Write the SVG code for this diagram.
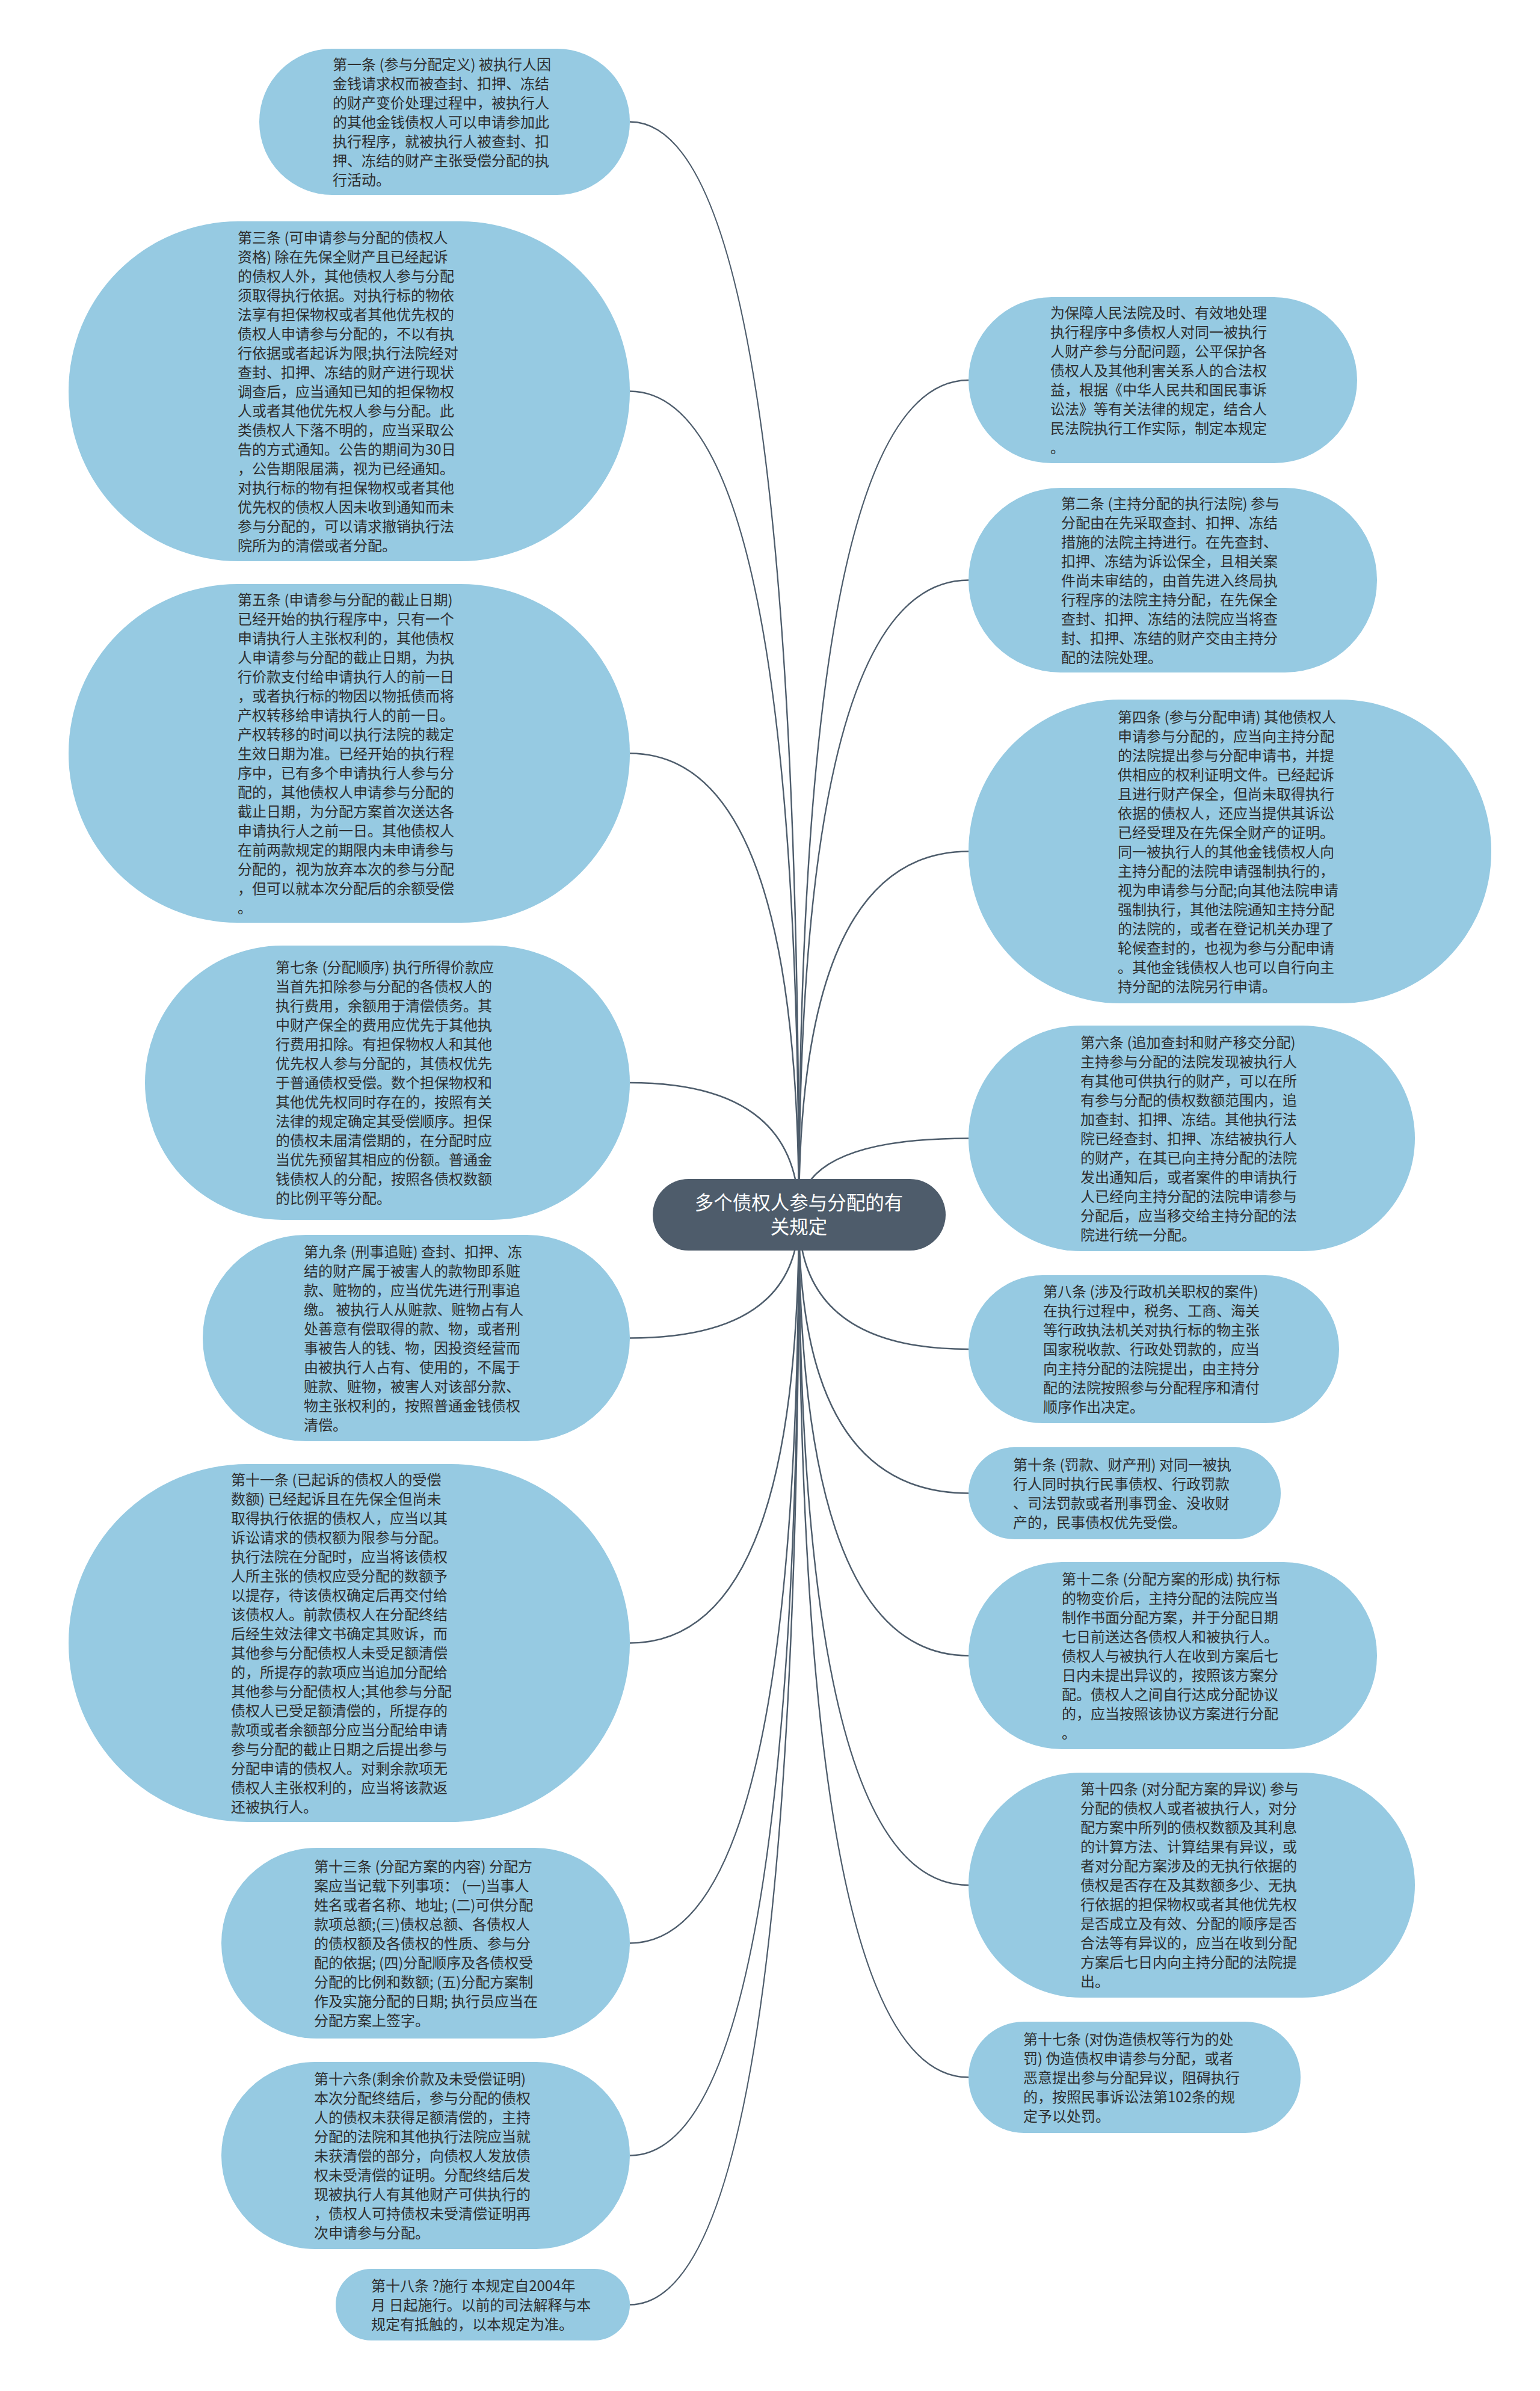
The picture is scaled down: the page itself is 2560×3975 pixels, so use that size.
<svg xmlns="http://www.w3.org/2000/svg" width="2560" height="3975" viewBox="0 0 2560 3975">
<style>
.bg{fill:#ffffff}
.n rect{fill:#96cae2}
.t{font-family:"Noto Sans CJK SC","Noto Sans",sans-serif;font-size:24px;fill:#2e2e2e}
.c path{fill:none;stroke:#4e5d6c;stroke-width:2.5}
.root rect{fill:#4e5c6b}
.rt{font-family:"Noto Sans CJK SC","Noto Sans",sans-serif;font-size:31.5px;fill:#ffffff;text-anchor:middle}
</style>
<rect class="bg" x="0" y="0" width="2560" height="3975"/>
<g id="connectors" class="c">
<path d="M1328 2020 Q1328 202.5 1047 202.5"/>
<path d="M1328 2020 Q1328 650.5 1047 650.5"/>
<path d="M1328 2020 Q1328 1252.5 1047 1252.5"/>
<path d="M1328 2020 Q1328 1800 1047 1800"/>
<path d="M1328 2020 Q1328 2224.5 1047 2224.5"/>
<path d="M1328 2020 Q1328 2731.5 1047 2731.5"/>
<path d="M1328 2020 Q1328 3230.5 1047 3230.5"/>
<path d="M1328 2020 Q1328 3583.5 1047 3583.5"/>
<path d="M1328 2020 Q1328 3831.5 1047 3831.5"/>
<path d="M1328 2020 Q1328 632 1610 632"/>
<path d="M1328 2020 Q1328 964.5 1610 964.5"/>
<path d="M1328 2020 Q1328 1415.5 1610 1415.5"/>
<path d="M1328 2020 Q1328 1892.5 1610 1892.5"/>
<path d="M1328 2020 Q1328 2243 1610 2243"/>
<path d="M1328 2020 Q1328 2482.5 1610 2482.5"/>
<path d="M1328 2020 Q1328 2752.5 1610 2752.5"/>
<path d="M1328 2020 Q1328 3134 1610 3134"/>
<path d="M1328 2020 Q1328 3453.5 1610 3453.5"/>
</g>

<g id="root" class="root">
<rect x="1085" y="1960" width="487" height="119" rx="59.5"/>
<text class="rt"><tspan x="1328" y="2011">多个债权人参与分配的有</tspan><tspan x="1328" y="2051">关规定</tspan></text>
</g>

<g id="node-1" class="n">
<rect x="431" y="81" width="616" height="243" rx="121"/>
<text class="t"><tspan x="553" y="115.5">第一条 (参与分配定义) 被执行人因</tspan><tspan x="553" y="147.5">金钱请求权而被查封、扣押、冻结</tspan><tspan x="553" y="179.5">的财产变价处理过程中，被执行人</tspan><tspan x="553" y="211.5">的其他金钱债权人可以申请参加此</tspan><tspan x="553" y="243.5">执行程序，就被执行人被查封、扣</tspan><tspan x="553" y="275.5">押、冻结的财产主张受偿分配的执</tspan><tspan x="553" y="307.5">行活动。</tspan></text>
</g>

<g id="node-3" class="n">
<rect x="114" y="368" width="933" height="565" rx="282"/>
<text class="t"><tspan x="395" y="403.5">第三条 (可申请参与分配的债权人</tspan><tspan x="395" y="435.5">资格) 除在先保全财产且已经起诉</tspan><tspan x="395" y="467.5">的债权人外，其他债权人参与分配</tspan><tspan x="395" y="499.5">须取得执行依据。对执行标的物依</tspan><tspan x="395" y="531.5">法享有担保物权或者其他优先权的</tspan><tspan x="395" y="563.5">债权人申请参与分配的，不以有执</tspan><tspan x="395" y="595.5">行依据或者起诉为限;执行法院经对</tspan><tspan x="395" y="627.5">查封、扣押、冻结的财产进行现状</tspan><tspan x="395" y="659.5">调查后，应当通知已知的担保物权</tspan><tspan x="395" y="691.5">人或者其他优先权人参与分配。此</tspan><tspan x="395" y="723.5">类债权人下落不明的，应当采取公</tspan><tspan x="395" y="755.5">告的方式通知。公告的期间为30日</tspan><tspan x="395" y="787.5">，公告期限届满，视为已经通知。</tspan><tspan x="395" y="819.5">对执行标的物有担保物权或者其他</tspan><tspan x="395" y="851.5">优先权的债权人因未收到通知而未</tspan><tspan x="395" y="883.5">参与分配的，可以请求撤销执行法</tspan><tspan x="395" y="915.5">院所为的清偿或者分配。</tspan></text>
</g>

<g id="node-5" class="n">
<rect x="114" y="971" width="933" height="563" rx="281"/>
<text class="t"><tspan x="395" y="1005.5">第五条 (申请参与分配的截止日期)</tspan><tspan x="395" y="1037.5">已经开始的执行程序中，只有一个</tspan><tspan x="395" y="1069.5">申请执行人主张权利的，其他债权</tspan><tspan x="395" y="1101.5">人申请参与分配的截止日期，为执</tspan><tspan x="395" y="1133.5">行价款支付给申请执行人的前一日</tspan><tspan x="395" y="1165.5">，或者执行标的物因以物抵债而将</tspan><tspan x="395" y="1197.5">产权转移给申请执行人的前一日。</tspan><tspan x="395" y="1229.5">产权转移的时间以执行法院的裁定</tspan><tspan x="395" y="1261.5">生效日期为准。已经开始的执行程</tspan><tspan x="395" y="1293.5">序中，已有多个申请执行人参与分</tspan><tspan x="395" y="1325.5">配的，其他债权人申请参与分配的</tspan><tspan x="395" y="1357.5">截止日期，为分配方案首次送达各</tspan><tspan x="395" y="1389.5">申请执行人之前一日。其他债权人</tspan><tspan x="395" y="1421.5">在前两款规定的期限内未申请参与</tspan><tspan x="395" y="1453.5">分配的，视为放弃本次的参与分配</tspan><tspan x="395" y="1485.5">，但可以就本次分配后的余额受偿</tspan><tspan x="395" y="1517.5">。</tspan></text>
</g>

<g id="node-7" class="n">
<rect x="241" y="1572" width="806" height="456" rx="228"/>
<text class="t"><tspan x="458" y="1617">第七条 (分配顺序) 执行所得价款应</tspan><tspan x="458" y="1649">当首先扣除参与分配的各债权人的</tspan><tspan x="458" y="1681">执行费用，余额用于清偿债务。其</tspan><tspan x="458" y="1713">中财产保全的费用应优先于其他执</tspan><tspan x="458" y="1745">行费用扣除。有担保物权人和其他</tspan><tspan x="458" y="1777">优先权人参与分配的，其债权优先</tspan><tspan x="458" y="1809">于普通债权受偿。数个担保物权和</tspan><tspan x="458" y="1841">其他优先权同时存在的，按照有关</tspan><tspan x="458" y="1873">法律的规定确定其受偿顺序。担保</tspan><tspan x="458" y="1905">的债权未届清偿期的，在分配时应</tspan><tspan x="458" y="1937">当优先预留其相应的份额。普通金</tspan><tspan x="458" y="1969">钱债权人的分配，按照各债权数额</tspan><tspan x="458" y="2001">的比例平等分配。</tspan></text>
</g>

<g id="node-9" class="n">
<rect x="337" y="2053" width="710" height="343" rx="171"/>
<text class="t"><tspan x="505" y="2089.5">第九条 (刑事追赃) 查封、扣押、冻</tspan><tspan x="505" y="2121.5">结的财产属于被害人的款物即系赃</tspan><tspan x="505" y="2153.5">款、赃物的，应当优先进行刑事追</tspan><tspan x="505" y="2185.5">缴。 被执行人从赃款、赃物占有人</tspan><tspan x="505" y="2217.5">处善意有偿取得的款、物，或者刑</tspan><tspan x="505" y="2249.5">事被告人的钱、物，因投资经营而</tspan><tspan x="505" y="2281.5">由被执行人占有、使用的，不属于</tspan><tspan x="505" y="2313.5">赃款、赃物，被害人对该部分款、</tspan><tspan x="505" y="2345.5">物主张权利的，按照普通金钱债权</tspan><tspan x="505" y="2377.5">清偿。</tspan></text>
</g>

<g id="node-11" class="n">
<rect x="114" y="2434" width="933" height="595" rx="297"/>
<text class="t"><tspan x="384" y="2468.5">第十一条 (已起诉的债权人的受偿</tspan><tspan x="384" y="2500.5">数额) 已经起诉且在先保全但尚未</tspan><tspan x="384" y="2532.5">取得执行依据的债权人，应当以其</tspan><tspan x="384" y="2564.5">诉讼请求的债权额为限参与分配。</tspan><tspan x="384" y="2596.5">执行法院在分配时，应当将该债权</tspan><tspan x="384" y="2628.5">人所主张的债权应受分配的数额予</tspan><tspan x="384" y="2660.5">以提存，待该债权确定后再交付给</tspan><tspan x="384" y="2692.5">该债权人。前款债权人在分配终结</tspan><tspan x="384" y="2724.5">后经生效法律文书确定其败诉，而</tspan><tspan x="384" y="2756.5">其他参与分配债权人未受足额清偿</tspan><tspan x="384" y="2788.5">的，所提存的款项应当追加分配给</tspan><tspan x="384" y="2820.5">其他参与分配债权人;其他参与分配</tspan><tspan x="384" y="2852.5">债权人已受足额清偿的，所提存的</tspan><tspan x="384" y="2884.5">款项或者余额部分应当分配给申请</tspan><tspan x="384" y="2916.5">参与分配的截止日期之后提出参与</tspan><tspan x="384" y="2948.5">分配申请的债权人。对剩余款项无</tspan><tspan x="384" y="2980.5">债权人主张权利的，应当将该款返</tspan><tspan x="384" y="3012.5">还被执行人。</tspan></text>
</g>

<g id="node-13" class="n">
<rect x="368" y="3072" width="679" height="317" rx="158"/>
<text class="t"><tspan x="522" y="3111.5">第十三条 (分配方案的内容) 分配方</tspan><tspan x="522" y="3143.5">案应当记载下列事项： (一)当事人</tspan><tspan x="522" y="3175.5">姓名或者名称、地址; (二)可供分配</tspan><tspan x="522" y="3207.5">款项总额;(三)债权总额、各债权人</tspan><tspan x="522" y="3239.5">的债权额及各债权的性质、参与分</tspan><tspan x="522" y="3271.5">配的依据; (四)分配顺序及各债权受</tspan><tspan x="522" y="3303.5">分配的比例和数额; (五)分配方案制</tspan><tspan x="522" y="3335.5">作及实施分配的日期; 执行员应当在</tspan><tspan x="522" y="3367.5">分配方案上签字。</tspan></text>
</g>

<g id="node-16" class="n">
<rect x="368" y="3428" width="679" height="311" rx="155"/>
<text class="t"><tspan x="522" y="3464.5">第十六条(剩余价款及未受偿证明)</tspan><tspan x="522" y="3496.5">本次分配终结后，参与分配的债权</tspan><tspan x="522" y="3528.5">人的债权未获得足额清偿的，主持</tspan><tspan x="522" y="3560.5">分配的法院和其他执行法院应当就</tspan><tspan x="522" y="3592.5">未获清偿的部分，向债权人发放债</tspan><tspan x="522" y="3624.5">权未受清偿的证明。分配终结后发</tspan><tspan x="522" y="3656.5">现被执行人有其他财产可供执行的</tspan><tspan x="522" y="3688.5">，债权人可持债权未受清偿证明再</tspan><tspan x="522" y="3720.5">次申请参与分配。</tspan></text>
</g>

<g id="node-18" class="n">
<rect x="558" y="3772" width="489" height="119" rx="59"/>
<text class="t"><tspan x="617" y="3808.5">第十八条 ?施行 本规定自2004年</tspan><tspan x="617" y="3840.5">月 日起施行。以前的司法解释与本</tspan><tspan x="617" y="3872.5">规定有抵触的，以本规定为准。</tspan></text>
</g>

<g id="node-intro" class="n">
<rect x="1610" y="494" width="646" height="276" rx="138"/>
<text class="t"><tspan x="1746" y="529">为保障人民法院及时、有效地处理</tspan><tspan x="1746" y="561">执行程序中多债权人对同一被执行</tspan><tspan x="1746" y="593">人财产参与分配问题，公平保护各</tspan><tspan x="1746" y="625">债权人及其他利害关系人的合法权</tspan><tspan x="1746" y="657">益，根据《中华人民共和国民事诉</tspan><tspan x="1746" y="689">讼法》等有关法律的规定，结合人</tspan><tspan x="1746" y="721">民法院执行工作实际，制定本规定</tspan><tspan x="1746" y="753">。</tspan></text>
</g>

<g id="node-2" class="n">
<rect x="1610" y="811" width="679" height="307" rx="153"/>
<text class="t"><tspan x="1764" y="845.5">第二条 (主持分配的执行法院) 参与</tspan><tspan x="1764" y="877.5">分配由在先采取查封、扣押、冻结</tspan><tspan x="1764" y="909.5">措施的法院主持进行。在先查封、</tspan><tspan x="1764" y="941.5">扣押、冻结为诉讼保全，且相关案</tspan><tspan x="1764" y="973.5">件尚未审结的，由首先进入终局执</tspan><tspan x="1764" y="1005.5">行程序的法院主持分配，在先保全</tspan><tspan x="1764" y="1037.5">查封、扣押、冻结的法院应当将查</tspan><tspan x="1764" y="1069.5">封、扣押、冻结的财产交由主持分</tspan><tspan x="1764" y="1101.5">配的法院处理。</tspan></text>
</g>

<g id="node-4" class="n">
<rect x="1610" y="1163" width="869" height="505" rx="252"/>
<text class="t"><tspan x="1858" y="1200.5">第四条 (参与分配申请) 其他债权人</tspan><tspan x="1858" y="1232.5">申请参与分配的，应当向主持分配</tspan><tspan x="1858" y="1264.5">的法院提出参与分配申请书，并提</tspan><tspan x="1858" y="1296.5">供相应的权利证明文件。已经起诉</tspan><tspan x="1858" y="1328.5">且进行财产保全，但尚未取得执行</tspan><tspan x="1858" y="1360.5">依据的债权人，还应当提供其诉讼</tspan><tspan x="1858" y="1392.5">已经受理及在先保全财产的证明。</tspan><tspan x="1858" y="1424.5">同一被执行人的其他金钱债权人向</tspan><tspan x="1858" y="1456.5">主持分配的法院申请强制执行的，</tspan><tspan x="1858" y="1488.5">视为申请参与分配;向其他法院申请</tspan><tspan x="1858" y="1520.5">强制执行，其他法院通知主持分配</tspan><tspan x="1858" y="1552.5">的法院的，或者在登记机关办理了</tspan><tspan x="1858" y="1584.5">轮候查封的，也视为参与分配申请</tspan><tspan x="1858" y="1616.5">。其他金钱债权人也可以自行向主</tspan><tspan x="1858" y="1648.5">持分配的法院另行申请。</tspan></text>
</g>

<g id="node-6" class="n">
<rect x="1610" y="1705" width="742" height="375" rx="187"/>
<text class="t"><tspan x="1796" y="1741.5">第六条 (追加查封和财产移交分配)</tspan><tspan x="1796" y="1773.5">主持参与分配的法院发现被执行人</tspan><tspan x="1796" y="1805.5">有其他可供执行的财产，可以在所</tspan><tspan x="1796" y="1837.5">有参与分配的债权数额范围内，追</tspan><tspan x="1796" y="1869.5">加查封、扣押、冻结。其他执行法</tspan><tspan x="1796" y="1901.5">院已经查封、扣押、冻结被执行人</tspan><tspan x="1796" y="1933.5">的财产，在其已向主持分配的法院</tspan><tspan x="1796" y="1965.5">发出通知后，或者案件的申请执行</tspan><tspan x="1796" y="1997.5">人已经向主持分配的法院申请参与</tspan><tspan x="1796" y="2029.5">分配后，应当移交给主持分配的法</tspan><tspan x="1796" y="2061.5">院进行统一分配。</tspan></text>
</g>

<g id="node-8" class="n">
<rect x="1610" y="2120" width="616" height="246" rx="123"/>
<text class="t"><tspan x="1734" y="2156">第八条 (涉及行政机关职权的案件)</tspan><tspan x="1734" y="2188">在执行过程中，税务、工商、海关</tspan><tspan x="1734" y="2220">等行政执法机关对执行标的物主张</tspan><tspan x="1734" y="2252">国家税收款、行政处罚款的，应当</tspan><tspan x="1734" y="2284">向主持分配的法院提出，由主持分</tspan><tspan x="1734" y="2316">配的法院按照参与分配程序和清付</tspan><tspan x="1734" y="2348">顺序作出决定。</tspan></text>
</g>

<g id="node-10" class="n">
<rect x="1610" y="2406" width="519" height="153" rx="76"/>
<text class="t"><tspan x="1684" y="2443.5">第十条 (罚款、财产刑) 对同一被执</tspan><tspan x="1684" y="2475.5">行人同时执行民事债权、行政罚款</tspan><tspan x="1684" y="2507.5">、司法罚款或者刑事罚金、没收财</tspan><tspan x="1684" y="2539.5">产的，民事债权优先受偿。</tspan></text>
</g>

<g id="node-12" class="n">
<rect x="1610" y="2597" width="679" height="311" rx="155"/>
<text class="t"><tspan x="1765" y="2633.5">第十二条 (分配方案的形成) 执行标</tspan><tspan x="1765" y="2665.5">的物变价后，主持分配的法院应当</tspan><tspan x="1765" y="2697.5">制作书面分配方案，并于分配日期</tspan><tspan x="1765" y="2729.5">七日前送达各债权人和被执行人。</tspan><tspan x="1765" y="2761.5">债权人与被执行人在收到方案后七</tspan><tspan x="1765" y="2793.5">日内未提出异议的，按照该方案分</tspan><tspan x="1765" y="2825.5">配。债权人之间自行达成分配协议</tspan><tspan x="1765" y="2857.5">的，应当按照该协议方案进行分配</tspan><tspan x="1765" y="2889.5">。</tspan></text>
</g>

<g id="node-14" class="n">
<rect x="1610" y="2947" width="742" height="374" rx="187"/>
<text class="t"><tspan x="1796" y="2983">第十四条 (对分配方案的异议) 参与</tspan><tspan x="1796" y="3015">分配的债权人或者被执行人，对分</tspan><tspan x="1796" y="3047">配方案中所列的债权数额及其利息</tspan><tspan x="1796" y="3079">的计算方法、计算结果有异议，或</tspan><tspan x="1796" y="3111">者对分配方案涉及的无执行依据的</tspan><tspan x="1796" y="3143">债权是否存在及其数额多少、无执</tspan><tspan x="1796" y="3175">行依据的担保物权或者其他优先权</tspan><tspan x="1796" y="3207">是否成立及有效、分配的顺序是否</tspan><tspan x="1796" y="3239">合法等有异议的，应当在收到分配</tspan><tspan x="1796" y="3271">方案后七日内向主持分配的法院提</tspan><tspan x="1796" y="3303">出。</tspan></text>
</g>

<g id="node-17" class="n">
<rect x="1610" y="3361" width="552" height="185" rx="92"/>
<text class="t"><tspan x="1701" y="3398.5">第十七条 (对伪造债权等行为的处</tspan><tspan x="1701" y="3430.5">罚) 伪造债权申请参与分配，或者</tspan><tspan x="1701" y="3462.5">恶意提出参与分配异议，阻碍执行</tspan><tspan x="1701" y="3494.5">的，按照民事诉讼法第102条的规</tspan><tspan x="1701" y="3526.5">定予以处罚。</tspan></text>
</g>
</svg>
